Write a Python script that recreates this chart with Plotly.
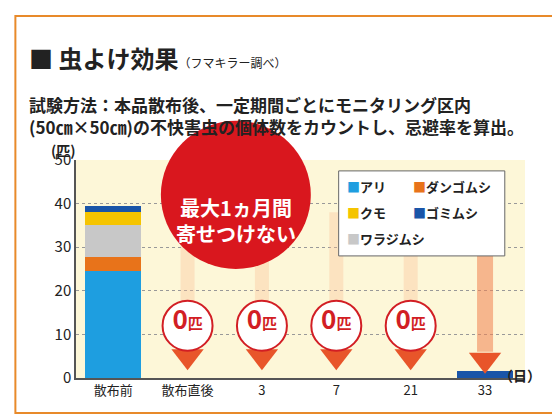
import plotly.graph_objects as go

categories = ["散布前", "散布直後", "3", "7", "21", "33"]
ari = [24.5, 0, 0, 0, 0, 0]
dango = [3.3, 0, 0, 0, 0, 0]
waraji = [7.2, 0, 0, 0, 0, 0]
kumo = [3.0, 0, 0, 0, 0, 0]
gomi = [1.5, 0, 0, 0, 0, 1.5]
zero_days = ["散布直後", "3", "7", "21"]

series = [("アリ", ari, "#1e9ee0"), ("ダンゴムシ", dango, "#e8731a"),
          ("ワラジムシ", waraji, "#c8c8c8"), ("クモ", kumo, "#f5c400"),
          ("ゴミムシ", gomi, "#1a55a8")]

fig = go.Figure()
for name, vals, col in series:
    fig.add_trace(go.Bar(x=categories, y=vals, name=name, marker_color=col,
                         marker_line_width=0, width=0.75, showlegend=False))

F = "Noto Sans CJK JP"
for c in zero_days:
    fig.add_trace(go.Scatter(x=[c, c], y=[38, 8], mode="lines",
                             line=dict(color="rgba(248,190,150,0.35)", width=14),
                             showlegend=False, hoverinfo="skip"))
    fig.add_trace(go.Scatter(x=[c, c], y=[9, 6], mode="lines",
                             line=dict(color="#e8552a", width=12),
                             showlegend=False, hoverinfo="skip"))
fig.add_trace(go.Scatter(x=["33", "33"], y=[35, 6], mode="lines",
                         line=dict(color="rgba(240,130,80,0.55)", width=16),
                         showlegend=False, hoverinfo="skip"))
fig.add_trace(go.Scatter(x=zero_days + ["33"], y=[5.0] * 4 + [4.2], mode="markers",
                         marker=dict(symbol="triangle-down", size=28, color="#e8552a"),
                         showlegend=False, hoverinfo="skip"))
fig.add_trace(go.Scatter(x=zero_days, y=[12] * 4, mode="markers+text",
                         marker=dict(symbol="circle", size=50, color="white",
                                     line=dict(color="#d21e24", width=2)),
                         text=["<b><span style='font-size:26px'>0</span>匹</b>"] * 4,
                         textposition="middle center",
                         textfont=dict(color="#d21e24", size=15, family=F),
                         showlegend=False, hoverinfo="skip"))

fig.add_shape(type="circle", xref="paper", yref="paper", x0=0.189, x1=0.523, y0=0.5, y1=1.18,
              fillcolor="#d9171e", line_width=0, layer="above")
fig.add_annotation(xref="paper", yref="paper", x=0.356, y=0.86, showarrow=False,
                   text="<b>最大1ヵ月間<br>寄せつけない</b>", font=dict(color="white", size=20, family=F))

fig.add_shape(type="rect", xref="paper", yref="paper", x0=0.585, x1=0.955, y0=0.56, y1=0.95,
              fillcolor="white", line=dict(color="#666", width=1))
leg = [("アリ", "#1e9ee0", 0.60, 0.88), ("ダンゴムシ", "#e8731a", 0.745, 0.88),
       ("クモ", "#f5c400", 0.60, 0.76), ("ゴミムシ", "#1a55a8", 0.745, 0.76),
       ("ワラジムシ", "#c8c8c8", 0.60, 0.64)]
for t, c, x, y in leg:
    fig.add_annotation(xref="paper", yref="paper", x=x, y=y, xanchor="left", yanchor="middle",
                       showarrow=False,
                       text=f"<span style='color:{c}'>■</span><b>{t}</b>",
                       font=dict(size=13, family=F, color="#222"))

fig.add_annotation(xref="paper", yref="paper", x=-0.11, y=1.56, xanchor="left", showarrow=False,
                   text="<b>■ 虫よけ効果</b><span style='font-size:12px'>（フマキラー調べ）</span>",
                   font=dict(size=24, family=F, color="#222"))
fig.add_annotation(xref="paper", yref="paper", x=-0.11, y=1.32, xanchor="left", showarrow=False,
                   align="left",
                   text="<b>試験方法：本品散布後、一定期間ごとにモニタリング区内<br>(50㎝×50㎝)の不快害虫の個体数をカウントし、忌避率を算出。</b>",
                   font=dict(size=17, family=F, color="#222"))
fig.add_annotation(xref="paper", yref="paper", x=-0.06, y=1.1, showarrow=False,
                   text="<b>(匹)</b>", font=dict(size=14, family=F, color="#222"))
fig.add_annotation(xref="paper", yref="paper", x=1.04, y=-0.04, showarrow=False,
                   text="<b>（日）</b>", font=dict(size=14, family=F, color="#222"))
fig.add_shape(type="rect", xref="paper", yref="paper", x0=-0.135, x1=1.08, y0=-0.16, y1=1.66,
              line=dict(color="#e88a2a", width=2))

fig.update_layout(
    barmode="stack", width=560, height=420,
    margin=dict(l=68, r=43, t=152, b=50),
    paper_bgcolor="white", plot_bgcolor="#fdf7d8",
    font=dict(family=F, color="#222"),
    xaxis=dict(type="category", tickfont=dict(size=13), showline=True,
               linecolor="#555", linewidth=1.5, ticks=""),
    yaxis=dict(range=[0, 50], dtick=10, tickfont=dict(size=15),
               gridcolor="#999", griddash="dot", showline=True, linecolor="#555",
               linewidth=1.5, zeroline=False),
)
fig.write_html("out.html")
